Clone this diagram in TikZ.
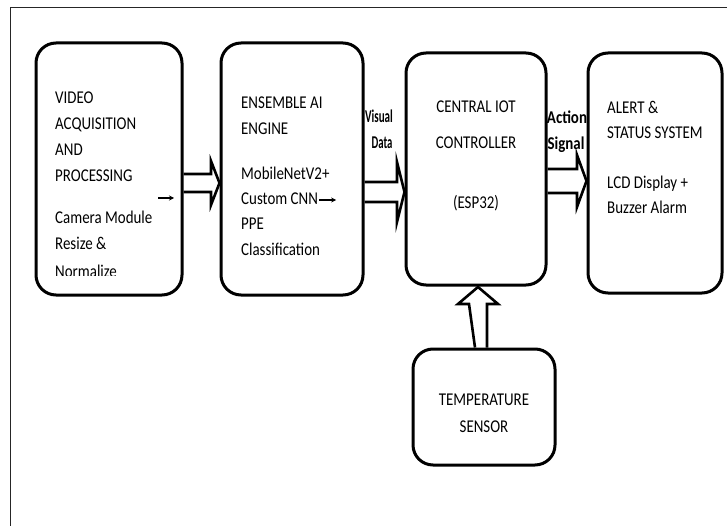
\documentclass[tikz,border=0pt]{standalone}
\usepackage{fontspec}
\setmainfont{Carlito}[FakeStretch=0.83]
\usetikzlibrary{arrows.meta,calc}
\begin{document}
\begin{tikzpicture}[x=1pt,y=-1pt,
  blk/.style={draw=black, line width=3pt, rounded corners=20pt, inner sep=0pt, fill=none},
  txt/.style={anchor=base west, inner sep=0pt, font=\fontsize{18}{20}\selectfont},
  ctxt/.style={anchor=base, inner sep=0pt, font=\fontsize{18}{20}\selectfont},
  lbl/.style={anchor=base, inner sep=0pt, font=\fontsize{18}{20}\selectfont\bfseries},
  hollow/.style={draw=black, line width=2.6pt, line join=miter},
  tiny/.style={-{Stealth[length=5pt,width=5pt]}, line width=1.1pt},
  frame/.style={draw=black!85, line width=1.8pt}]
\useasboundingbox (0,0) rectangle (727,526);
\fill[white] (0,0) rectangle (727,526);
% outer frame (only top and left visible)
\coordinate (fbl) at (10.5,526);
\coordinate (ftl) at (10.5,7.5);
\coordinate (ftr) at (727,7.5);
\draw[frame] (fbl) -- (ftl) -- (ftr);

% blocks
\node[blk, minimum width=146pt, minimum height=252pt] (b1) at (109,169) {};
\node[blk, minimum width=142pt, minimum height=252pt] (b2) at (292,169) {};
\node[blk, minimum width=140pt, minimum height=232pt] (b3) at (476,169) {};
\node[blk, minimum width=134pt, minimum height=240pt] (b4) at (655,173) {};
\node[blk, minimum width=142pt, minimum height=116pt] (b5) at (484,407) {};

% block 1 text
\node[txt] (t11) at (55,104) {VIDEO};
\node[txt] (t12) at (55,130) {ACQUISITION};
\node[txt] (t13) at (55,156) {AND};
\node[txt] (t14) at (55,182) {PROCESSING};
\node[txt] (t15) at (55,224) {Camera Module};
\node[txt] (t16) at (55,250) {Resize \&};
\begin{scope}
  \clip (40,0) rectangle (180,275);
  \node[txt] (t17) at (55,277) {Normalize};
\end{scope}
\coordinate (a1s) at (158,198);
\coordinate (a1e) at (174,198);
\draw[tiny] (a1s) -- (a1e);

% block 2 text
\node[txt] (t21) at (241,109) {ENSEMBLE AI};
\node[txt] (t22) at (241,135) {ENGINE};
\node[txt] (t23) at (241,180) {MobileNetV2+};
\node[txt] (t24) at (241,205) {Custom CNN};
\node[txt] (t25) at (241,230) {PPE};
\node[txt] (t26) at (241,255) {Classification};
\coordinate (a2s) at ($(t24.base east)+(1,-5)$);
\coordinate (a2e) at ($(a2s)+(17,0)$);
\draw[tiny] (a2s) -- (a2e);

% block 3 text
\node[ctxt] (t31) at (476,113) {CENTRAL IOT};
\node[ctxt] (t32) at (476,149) {CONTROLLER};
\node[ctxt] (t33) at (476,209) {(ESP32)};

% block 4 text
\node[txt] (t41) at (607,114) {ALERT \&};
\node[txt] (t42) at (607,139) {STATUS SYSTEM};
\node[txt] (t43) at (607,189) {LCD Display +};
\node[txt] (t44) at (607,214) {Buzzer Alarm};

% block 5 text
\node[ctxt] (t51) at (484,405) {TEMPERATURE};
\node[ctxt] (t52) at (484,432) {SENSOR};

% connector labels
\node[lbl] (l1) at (379,123) {\scalebox{0.74}[1]{Visual}};
\node[lbl] (l2) at (382,149) {\scalebox{0.72}[1]{Data}};
\node[lbl] (l3) at (567,124) {Action};
\node[lbl] (l4) at (566,150) {Signal};

% hollow block arrows
% b1 -> b2
\draw[hollow] ($(b1.east)+(0,5)$) -- (211,174) -- (211,161) -- ($(b2.west)+(0,14)$) -- (211,205) -- (211,192) -- ($(b1.east)+(0,23)$);
% b2 -> b3
\draw[hollow] ($(b2.east)+(0,13)$) -- (397,182) -- (397,162) -- ($(b3.west)+(0,23)$) -- (397,222) -- (397,202) -- ($(b2.east)+(0,33)$);
% b3 -> b4
\draw[hollow] ($(b3.east)+(0,0)$) -- (577,169) -- (577,155) -- ($(b4.west)+(0,8)$) -- (577,207) -- (577,193) -- ($(b3.east)+(0,24)$);
% b5 -> b3
\draw[hollow] ($(b5.north)+(-9,0)$) -- (469,304) -- (458,304) -- (478,287) -- (498,304) -- (487,304) -- ($(b5.north)+(3,0)$);
\end{tikzpicture}
\end{document}
